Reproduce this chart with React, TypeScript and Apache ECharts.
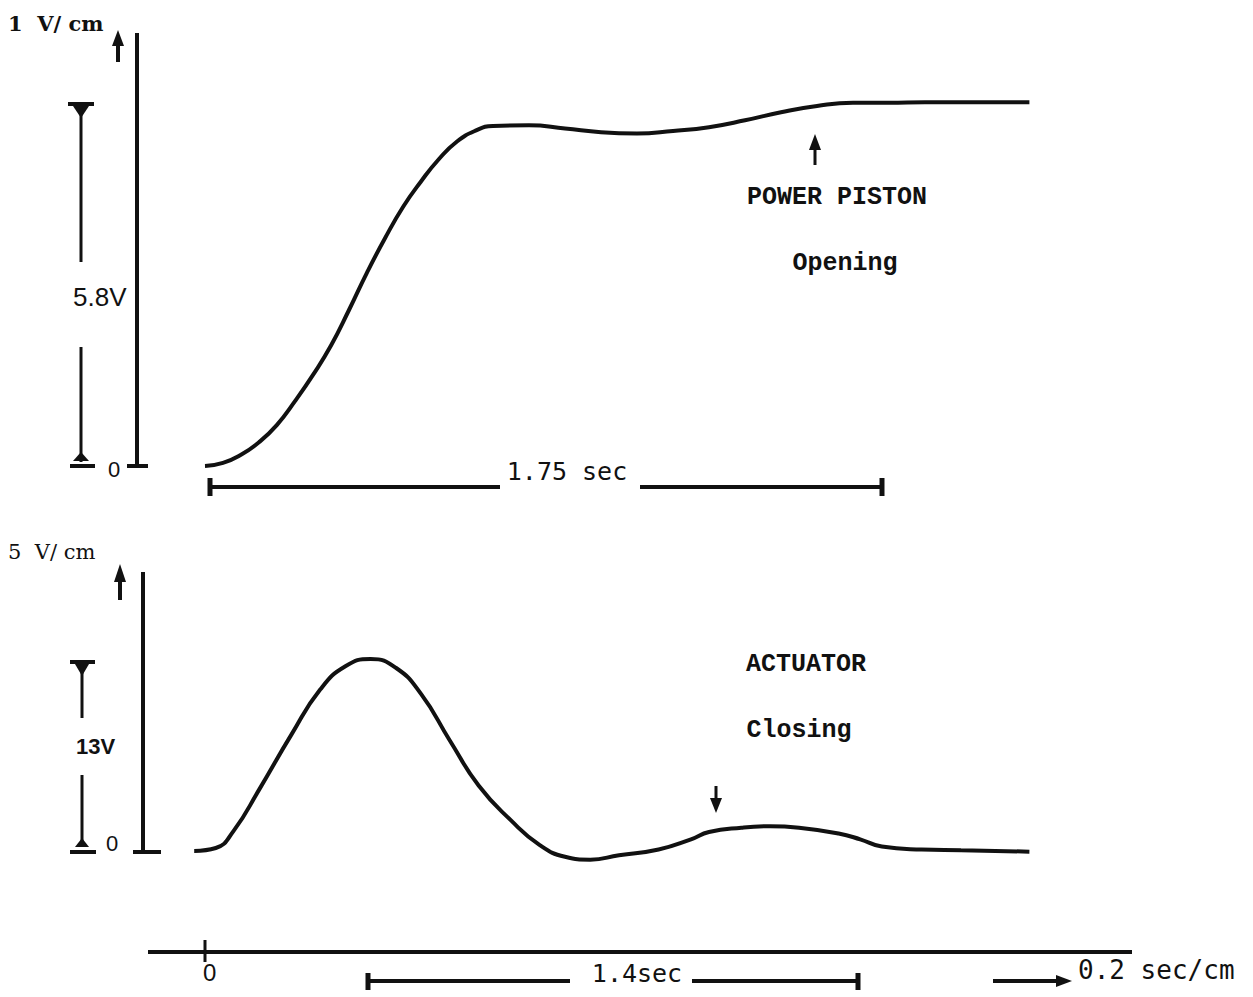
import React, { useEffect, useRef } from "react";
import * as echarts from "echarts";

// Power piston (opening) trace, 1 V/cm — time in seconds, volts
const TIME_TOP = [0, 0.05, 0.1, 0.15, 0.2, 0.25, 0.3, 0.35, 0.4, 0.45, 0.5, 0.55, 0.6, 0.65, 0.7, 0.75, 0.8, 0.9, 1.0, 1.1, 1.2, 1.3, 1.4, 1.5, 1.6, 1.7, 1.8, 1.9, 2.0, 2.1, 2.2, 2.29];
const VOLT_TOP = [0, 0.05, 0.18, 0.38, 0.66, 1.04, 1.46, 1.93, 2.5, 3.1, 3.65, 4.15, 4.56, 4.92, 5.2, 5.37, 5.45, 5.46, 5.41, 5.35, 5.33, 5.37, 5.43, 5.54, 5.67, 5.77, 5.82, 5.82, 5.83, 5.83, 5.83, 5.83];

// Actuator (closing) trace, 5 V/cm
const TIME_BOTTOM = [-0.03, 0.03, 0.08, 0.15, 0.24, 0.32, 0.39, 0.46, 0.53, 0.6, 0.68, 0.76, 0.85, 0.93, 1.0, 1.07, 1.15, 1.26, 1.35, 1.4, 1.49, 1.57, 1.65, 1.76, 1.82, 1.88, 1.99, 2.1, 2.29];
const VOLT_BOTTOM = [0, 0.2, 1.4, 4.2, 8.0, 11.1, 12.7, 13.2, 12.6, 10.8, 7.6, 4.5, 2.1, 0.4, -0.4, -0.6, -0.3, 0.1, 0.8, 1.3, 1.6, 1.7, 1.6, 1.2, 0.8, 0.3, 0.1, 0.05, -0.05];

const INK = "#111111";
const MONO = "'Liberation Mono', 'DejaVu Sans Mono', monospace";
const SANSMONO = "'DejaVu Sans Mono', 'Liberation Mono', monospace";

function ln(x1: number, y1: number, x2: number, y2: number, w = 4) {
  return { type: "line", shape: { x1, y1, x2, y2 }, style: { stroke: INK, lineWidth: w, lineCap: "butt" }, silent: true };
}
function poly(points: number[][]) {
  return { type: "polygon", shape: { points }, style: { fill: INK }, silent: true };
}
function txt(x: number, y: number, text: string, size: number, family: string, weight = "normal", align = "left") {
  return {
    type: "text",
    x,
    y,
    style: { text, fill: INK, fontSize: size, fontFamily: family, fontWeight: weight, textAlign: align, textVerticalAlign: "middle" },
    silent: true,
  };
}

export default function App() {
  const ref = useRef<HTMLDivElement>(null);
  useEffect(() => {
    if (!ref.current) return;
    const chart = echarts.init(ref.current, null, { renderer: "svg" });
    const graphic: any[] = [
      // ---- top panel ----
      txt(8, 23, "1  V/ cm", 21, "'DejaVu Serif', serif", "bold"),
      ln(118, 42, 118, 62, 4),
      poly([[112, 46], [124, 46], [118, 30]]),
      ln(137, 33, 137, 466, 4),
      ln(127, 466, 148, 466, 4),
      txt(108, 469, "0", 22, "'Liberation Sans', sans-serif"),
      // 5.8V dimension
      ln(68, 104, 94, 104, 4),
      poly([[73, 106], [89, 106], [81, 118]]),
      ln(81, 106, 81, 262, 3),
      ln(81, 347, 81, 462, 3),
      poly([[73, 461], [89, 461], [81, 452]]),
      ln(70, 466, 95, 466, 4),
      txt(73, 297, "5.8V", 26, "'Liberation Sans', sans-serif"),
      // 1.75 sec dimension
      ln(210, 487, 500, 487, 4),
      ln(640, 487, 882, 487, 4),
      ln(210, 478, 210, 496, 5),
      ln(882, 478, 882, 496, 5),
      txt(567, 471, "1.75 sec", 25, SANSMONO, "normal", "center"),
      // labels
      ln(815, 148, 815, 165, 3),
      poly([[809, 150], [821, 150], [815, 134]]),
      txt(837, 197, "POWER PISTON", 25, MONO, "bold", "center"),
      txt(845, 263, "Opening", 25, MONO, "bold", "center"),

      // ---- bottom panel ----
      txt(8, 552, "5  V/ cm", 21, "'DejaVu Serif', serif"),
      ln(120, 578, 120, 600, 4),
      poly([[114, 582], [126, 582], [120, 564]]),
      ln(143, 572, 143, 851, 4),
      ln(133, 852, 161, 852, 4),
      txt(106, 843, "0", 22, "'Liberation Sans', sans-serif"),
      // 13V dimension
      ln(70, 662, 95, 662, 4),
      poly([[75, 664], [89, 664], [82, 676]]),
      ln(82, 664, 82, 718, 3),
      ln(82, 775, 82, 846, 3),
      poly([[75, 847], [89, 847], [82, 838]]),
      ln(70, 852, 96, 852, 4),
      txt(76, 746, "13V", 22, "'Liberation Sans', sans-serif", "bold"),
      // labels
      txt(806, 664, "ACTUATOR", 25, MONO, "bold", "center"),
      txt(799, 730, "Closing", 25, MONO, "bold", "center"),
      ln(716, 786, 716, 800, 3),
      poly([[710, 798], [722, 798], [716, 813]]),

      // ---- time axis ----
      ln(148, 952, 1132, 952, 4),
      ln(205, 940, 205, 962, 3),
      txt(203, 972, "0", 24, "'Liberation Sans', sans-serif"),
      ln(368, 981, 570, 981, 4),
      ln(692, 981, 858, 981, 4),
      ln(368, 973, 368, 990, 5),
      ln(858, 973, 858, 990, 5),
      txt(637, 973, "1.4sec", 25, SANSMONO, "normal", "center"),
      ln(993, 981, 1060, 981, 4),
      poly([[1056, 975], [1056, 987], [1072, 981]]),
      txt(1078, 970, "0.2 sec/cm", 26, SANSMONO),
    ];

    chart.setOption({
      animation: false,
      backgroundColor: "#ffffff",
      grid: [
        { left: 169, width: 900, top: 29.2, height: 436.8 },
        { left: 169, width: 900, top: 647.4, height: 232.6 },
      ],
      xAxis: [
        { type: "value", gridIndex: 0, min: -0.1, max: 2.4, show: false },
        { type: "value", gridIndex: 1, min: -0.1, max: 2.4, show: false },
      ],
      yAxis: [
        { type: "value", gridIndex: 0, min: 0, max: 7, show: false },
        { type: "value", gridIndex: 1, min: -2, max: 14, show: false },
      ],
      series: [
        {
          name: "POWER PISTON Opening",
          type: "line",
          xAxisIndex: 0,
          yAxisIndex: 0,
          data: TIME_TOP.map((t, i) => [t, VOLT_TOP[i]]),
          smooth: 0.5,
          showSymbol: false,
          lineStyle: { color: INK, width: 4 },
        },
        {
          name: "ACTUATOR Closing",
          type: "line",
          xAxisIndex: 1,
          yAxisIndex: 1,
          data: TIME_BOTTOM.map((t, i) => [t, VOLT_BOTTOM[i]]),
          smooth: 0.5,
          showSymbol: false,
          lineStyle: { color: INK, width: 4 },
        },
      ],
      graphic,
    });
    return () => chart.dispose();
  }, []);
  return <div ref={ref} style={{ position: "fixed", left: 0, top: 0, width: 1253, height: 997 }} />;
}
